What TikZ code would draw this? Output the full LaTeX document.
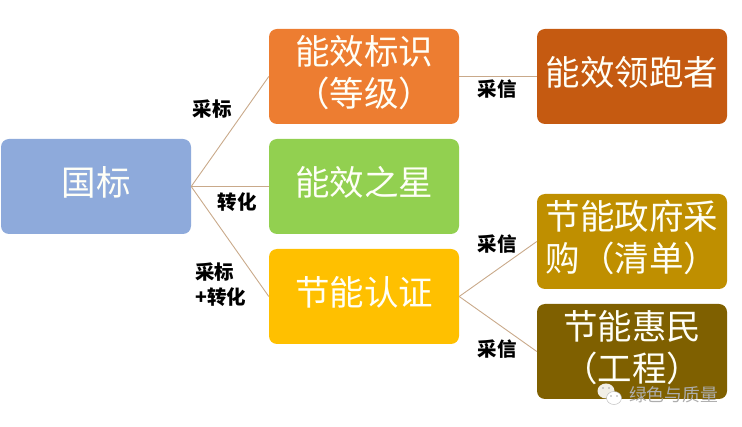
\documentclass[tikz,border=0pt]{standalone}
\usepackage{fontspec}
\setmainfont{Noto Sans CJK SC}
\definecolor{cblue}{HTML}{8EAADB}
\definecolor{corange}{HTML}{ED7D31}
\definecolor{cgreen}{HTML}{92D050}
\definecolor{cyellow}{HTML}{FFC000}
\definecolor{cdorange}{HTML}{C55A11}
\definecolor{cgold}{HTML}{BF8F00}
\definecolor{cbrown}{HTML}{7F6000}
\definecolor{clink}{HTML}{C9A98A}
\newcommand\up{\rule[-11pt]{0pt}{0pt}}
\tikzset{
  box/.style={rounded corners=8pt,minimum width=190pt,minimum height=95pt,inner sep=0pt,
    text=white!97!yellow,font=\fontsize{34.5}{42.5}\selectfont,align=center},
  link/.style={draw=clink,line width=0.9pt},
  lab/.style={font=\fontsize{19.5}{25}\selectfont\bfseries,text=black,align=left,inner sep=0pt},
}
\begin{document}
\begin{tikzpicture}[x=1pt,y=-1pt]
\useasboundingbox (0,0) rectangle (742,427);
\node[box,fill=cblue] (gb) at (96,186.5) {国标\up};
\node[box,fill=corange] (bs) at (364,76.5) {能效标识\\（等级）\up};
\node[box,fill=cgreen] (zx) at (364,186.5) {能效之星\up};
\node[box,fill=cyellow] (rz) at (364,296.5) {节能认证\up};
\node[box,fill=cdorange] (lp) at (632,76.5) {能效领跑者\up};
\node[box,fill=cgold] (zf) at (632,241.5) {节能政府采\\购（清单）\up};
\node[box,fill=cbrown] (hm) at (632,351.5) {节能惠民\\（工程）\up};
\draw[link] (gb.east) -- (bs.west);
\draw[link] (gb.east) -- (zx.west);
\draw[link] (gb.east) -- (rz.west);
\draw[link] (bs.east) -- (lp.west);
\draw[link] (rz.east) -- (zf.west);
\draw[link] (rz.east) -- (hm.west);
\node[lab] (l1) at (212,109) {采标};
\node[lab] (l2) at (237,202) {转化};
\node[lab,anchor=west] (l3) at (195,284.5) {采标\\+转化};
\node[lab] (l4) at (497,89) {采信};
\node[lab] (l5) at (497,244) {采信};
\node[lab] (l6) at (497,349) {采信};
% watermark
\fill[white,opacity=.9] (606,391) ellipse (8.5pt and 7.5pt);
\fill[white,draw=gray!60,line width=.4pt] (614,398) ellipse (7.5pt and 6.5pt);
\fill[gray!70] (603,388) circle (.9pt) (609,388) circle (.9pt) (611,396) circle (.8pt) (617,396) circle (.8pt);
\node[font=\fontsize{17.8}{20}\selectfont,text=black!32,inner sep=0pt] (wm) at (673.5,395) {绿色与质量};
\end{tikzpicture}
\end{document}
